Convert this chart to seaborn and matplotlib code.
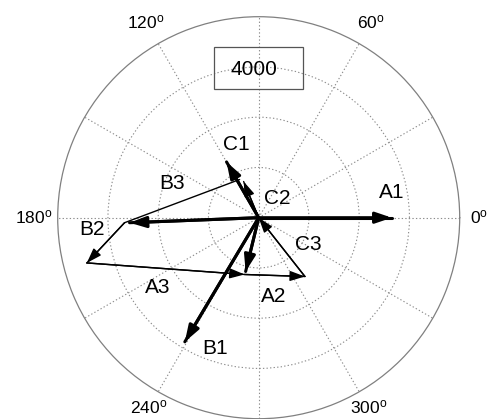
import numpy as np
import pandas as pd
import matplotlib
matplotlib.use("Agg")
import matplotlib.pyplot as plt
import seaborn as sns
from matplotlib.patches import Rectangle

# ---------------- data (chart units, x to the right, y up) ----------------
R_MAX = 4000
ring_values = [1000, 2000, 3000]
angle_labels = [0, 60, 120, 180, 240, 300]
box_text = "4000"

# thick phasors (from origin)
thick_tail_x = [0, 0, 0, 0, 0]
thick_tail_y = [0, 0, 0, 0, 0]
thick_head_x = [2650, -1470, -640, -2570, -260]
thick_head_y = [0, -2470, 1110, -100, -1070]

# thin phasors (chained)
thin_tail_x = [-2670, -3420, -280, 920, -2670, 0]
thin_tail_y = [-100, -900, -1130, -1170, -100, 0]
thin_head_x = [-3420, -280, 920, 0, -380, -300]
thin_head_y = [-900, -1130, -1170, 0, 760, 720]
thin_has_head = [True, True, True, True, False, True]

labels = ["A1", "B1", "C1", "A2", "B2", "C2", "A3", "B3", "C3"]
label_x = [2650, -870, -450, 290, -3320, 360, -2000, -1730, 980]
label_y = [500, -2610, 1450, -1560, -240, 390, -1380, 690, -540]

box_x, box_y = -94, 2940

# ---------------- style ----------------
sns.set_theme(style="white")
plt.rcParams["font.family"] = ["Liberation Sans", "DejaVu Sans"]
plt.rcParams["mathtext.fontset"] = "custom"
plt.rcParams["mathtext.rm"] = "Liberation Sans"
plt.rcParams["mathtext.it"] = "Liberation Sans:italic"


def to_polar(x, y):
    x = np.asarray(x, float)
    y = np.asarray(y, float)
    return np.arctan2(y, x), np.hypot(x, y)


fig = plt.figure(figsize=(4.89, 4.19), dpi=100)
cx, cy, rad = 258.7, 419 - 217.7, 201
ax = fig.add_axes([(cx - rad) / 489, (cy - rad) / 419, 2 * rad / 489, 2 * rad / 419],
                  projection="polar")
ax.set_facecolor("white")
ax.set_ylim(0, R_MAX)
ax.set_rgrids(ring_values, labels=[""] * len(ring_values))
ax.set_thetagrids(np.arange(0, 360, 30), labels=[""] * 12)
ax.grid(True, linestyle=(0, (1.2, 2)), color="#8c8c8c", linewidth=0.8)
ax.spines["polar"].set_color("#808080")
ax.spines["polar"].set_linewidth(0.9)

# build a segment table for seaborn
rows = []
seg = 0
for kind, tx, ty, hx, hy in [("thick", thick_tail_x, thick_tail_y, thick_head_x, thick_head_y),
                             ("thin", thin_tail_x, thin_tail_y, thin_head_x, thin_head_y)]:
    for i in range(len(tx)):
        t0, r0 = to_polar(tx[i], ty[i])
        t1, r1 = to_polar(hx[i], hy[i])
        rows.append(dict(seg=seg, kind=kind, theta=float(t0), r=float(r0)))
        rows.append(dict(seg=seg, kind=kind, theta=float(t1), r=float(r1)))
        seg += 1
df = pd.DataFrame(rows)

sns.lineplot(data=df, x="theta", y="r", units="seg", estimator=None, sort=False,
             size="kind", sizes={"thick": 2.2, "thin": 1.0}, color="black",
             legend=False, ax=ax)
ax.set_xlabel("")
ax.set_ylabel("")

# arrowheads
def head(tx, ty, hx, hy, lw, ms):
    t0, r0 = to_polar(tx, ty)
    t1, r1 = to_polar(hx, hy)
    ax.annotate("", xy=(t1, r1), xytext=(t0, r0), xycoords="data",
                arrowprops=dict(arrowstyle="-|>,head_length=0.65,head_width=0.22",
                                lw=lw, color="black", shrinkA=0, shrinkB=0,
                                mutation_scale=ms))

for i in range(len(thick_head_x)):
    head(thick_tail_x[i], thick_tail_y[i], thick_head_x[i], thick_head_y[i], 2.2, 15)
for i in range(len(thin_head_x)):
    if thin_has_head[i]:
        head(thin_tail_x[i], thin_tail_y[i], thin_head_x[i], thin_head_y[i], 1.0, 14)

# phasor labels
lt, lr = to_polar(label_x, label_y)
for name, t, r in zip(labels, lt, lr):
    ax.text(t, r, name, ha="center", va="center", fontsize=15, color="black")

# angle labels
for a in angle_labels:
    txt = rf"{a}$^{{\mathrm{{o}}}}$"
    if a == 0:
        ax.text(0.0, R_MAX * 1.05, txt, ha="left", va="center", fontsize=12.5,
                color="black", clip_on=False)
    elif a in (240, 300):
        ax.text(np.deg2rad(a), R_MAX * 1.09, txt, ha="center", va="center",
                fontsize=12.5, color="black", clip_on=False)
    else:
        ax.text(np.deg2rad(a), R_MAX * 1.12, txt, ha="center", va="center",
                fontsize=12.5, color="black", clip_on=False)

# boxed annotation
bt, br = to_polar(box_x, box_y)
ax.text(bt, br, box_text, ha="center", va="center", fontsize=15, color="black")
fig.add_artist(Rectangle((214 / 489, 330 / 419), 89 / 489, 42 / 419,
                         transform=fig.transFigure, fill=False,
                         edgecolor="#555555", linewidth=0.9))

fig.savefig("out.png", dpi=100, facecolor="white")
